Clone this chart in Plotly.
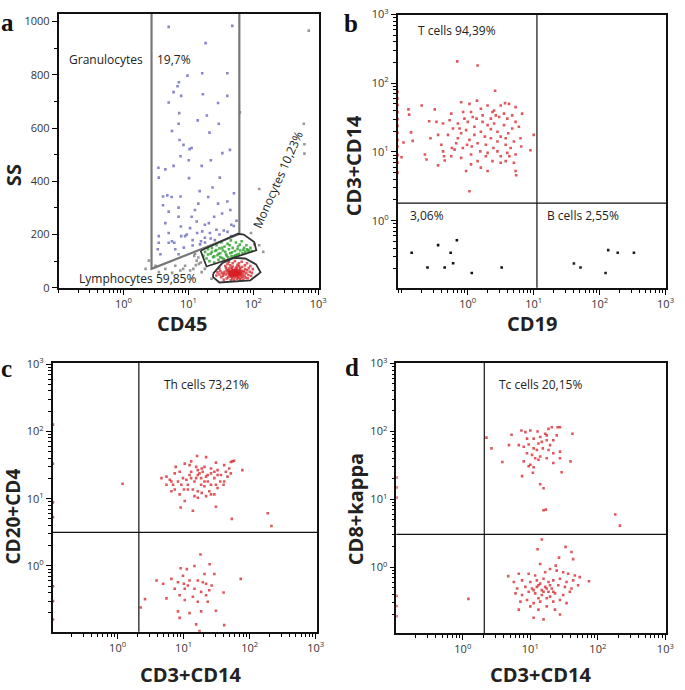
import plotly.graph_objects as go

# ---------------- Panel a: CD45 vs SS ----------------
granulocytes = [(4.96, 980), (47.3, 984), (18.4, 919), (16.3, 806), (39.7, 806), (9.66, 797), (7.13, 772),
                (6.80, 757), (5.91, 735), (16.7, 727), (39.7, 721), (4.96, 696), (28.6, 694), (7.73, 721),
                (7.21, 656), (19.2, 647), (7.05, 616), (13.9, 629), (29.3, 616), (21.1, 583), (5.57, 589),
                (7.29, 555), (8.39, 537), (10.4, 521), (11.2, 525), (43.6, 518), (22.1, 479), (33.3, 506),
                (7.55, 494), (10.1, 479), (16.0, 458), (5.91, 458), (3.45, 451), (4.41, 445), (3.49, 414),
                (10.2, 412), (30.4, 414), (23.5, 377), (14.9, 363), (4.73, 347), (4.06, 343), (20.2, 341),
                (5.51, 341), (7.55, 343), (50.2, 355), (4.06, 310), (7.05, 301), (14.2, 316), (28.6, 316),
                (39.7, 324), (44.2, 292), (4.96, 286), (7.05, 267), (11.2, 267), (13.4, 249), (17.9, 237),
                (20.6, 243), (24.9, 267), (4.41, 243), (7.64, 230), (3.49, 194), (4.96, 206), (9.44, 200),
                (13.6, 206), (16.3, 212), (21.4, 206), (8.89, 194), (3.49, 169), (5.57, 175), (11.6, 179),
                (15.6, 175), (25.5, 179), (45.7, 194), (6.27, 145), (8.49, 151), (11.6, 159), (15.1, 163),
                (3.37, 145), (3.70, 126), (4.96, 169), (7.05, 126), (17.9, 188), (27.0, 218), (10.6, 224),
                (12.6, 292), (33.0, 279), (45.7, 237), (6.05, 169), (7.73, 194), (30.0, 200), (35.0, 215),
                (22.0, 185), (40.0, 210), (50.0, 232), (55.0, 252), (18.0, 170)]
monocytes = [(17, 120), (18, 135), (19, 110), (20, 145), (21, 100), (22, 128), (23, 150), (24, 115), (25, 95),
             (26, 138), (27, 160), (28, 122), (29, 105), (30, 148), (31, 130), (32, 170), (33, 112), (34, 140),
             (35, 108), (36, 155), (38, 125), (40, 165), (41, 114), (42, 145), (44, 130), (45, 178), (46, 118),
             (48, 150), (50, 118), (52, 138), (54, 170), (56, 125), (58, 155), (60, 128), (63, 140), (66, 175),
             (68, 130), (72, 150), (75, 135), (78, 160), (82, 140), (86, 140), (90, 150), (95, 138), (20, 125),
             (23, 135), (25, 118), (27, 142), (29, 128), (31, 115), (33, 150), (37, 135), (39, 120), (43, 160),
             (47, 133), (53, 122), (57, 145), (62, 162), (70, 142), (80, 145)]
lymphocytes = [(45, 55), (48, 60), (50, 52), (52, 58), (55, 62), (47, 50), (53, 48), (58, 56), (44, 62), (49, 66),
               (56, 70), (60, 60), (42, 52), (51, 45), (54, 54), (57, 50), (46, 58), (59, 65), (62, 55), (40, 58),
               (50, 62), (48, 54), (52, 66), (55, 45), (43, 48), (61, 48), (64, 62), (38, 50), (47, 70), (53, 72),
               (58, 42), (45, 42), (66, 57), (41, 65), (50, 57), (54, 60), (49, 48), (57, 62), (63, 68), (44, 56),
               (36, 60), (39, 66), (35, 52), (68, 50), (70, 64), (65, 45), (62, 74), (46, 75), (52, 40), (59, 38),
               (42, 72), (55, 78), (48, 80), (60, 82), (38, 74), (33, 56), (34, 45), (72, 58), (75, 70), (69, 40),
               (41, 40), (47, 36), (56, 34), (64, 36), (73, 46), (78, 55), (80, 66), (67, 78), (57, 86), (44, 84),
               (37, 82), (31, 62), (30, 50), (32, 40), (39, 35), (50, 30), (62, 30), (76, 38), (84, 48), (88, 60),
               (85, 74), (74, 84), (60, 92), (48, 92), (40, 90), (30, 72), (28, 58), (27, 46), (35, 30), (45, 28),
               (70, 30), (82, 36), (92, 44), (95, 56), (98, 70), (90, 82), (80, 92), (66, 98), (52, 100), (42, 98),
               (58, 55), (51, 51), (46, 63), (54, 66), (49, 43), (61, 58), (43, 60), (56, 47), (53, 56), (47, 46),
               (51, 59), (45, 50), (55, 53), (49, 57), (60, 52), (52, 63), (57, 58), (48, 64), (44, 46), (63, 50)]
ungated = [(713, 966), (62, 659), (598, 616), (612, 539), (612, 504), (123, 371), (123, 160), (142, 135),
           (92, 206), (104, 163), (2.46, 102), (2.19, 71), (3.11, 83), (4.41, 71), (6.27, 83), (8.89, 83),
           (11.9, 71), (10.6, 65), (12.3, 120), (13.4, 102), (14.2, 114), (12.6, 128), (16.0, 59), (17.9, 71),
           (7.5, 65), (22.7, 34), (3.5, 59), (5.6, 56), (8.3, 71), (14.5, 90), (15.5, 95), (13, 85)]
gate_granulocytes = [(2.7, 1100), (2.7, 71), (60.8, 202), (60.8, 1100)]
gate_monocytes = [(15.4, 139), (57.7, 203), (71, 200), (103, 172), (111, 141), (19, 80), (15.4, 139)]
gate_lymphocytes = [(24, 53), (33, 92), (50, 112), (75, 110), (110, 88), (129, 58), (90, 28), (30, 20), (24, 40), (24, 53)]

# ---------------- Panel b: CD19 vs CD3+CD14 ----------------
t_cells = [(0.692, 208), (1.41, 181), (2.60, 77.7), (0.200, 47.5), (0.126, 41.6), (0.129, 34.9), (0.316, 41.6),
           (0.260, 28.0), (0.138, 19.3), (0.106, 13.7), (0.146, 14.5), (0.224, 9.16), (0.237, 7.77),
           (0.099, 8.39), (0.355, 6.38), (0.447, 7.52), (0.422, 26.0), (0.562, 36.1), (0.794, 52.9),
           (1.06, 50.1), (1.38, 55.9), (2.0, 47.5), (2.51, 40.2), (3.16, 47.5), (3.67, 51.3), (4.22, 50.1),
           (5.31, 44.9), (6.68, 36.1), (5.31, 27.4), (3.98, 30.6), (2.99, 32.3), (2.24, 30.6), (1.68, 34.1),
           (1.19, 32.3), (0.891, 30.6), (0.708, 26.0), (0.596, 22.0), (0.501, 17.7), (0.708, 15.8),
           (0.944, 20.8), (1.26, 23.3), (1.58, 19.7), (2.0, 24.6), (2.51, 26.0), (3.55, 24.6), (4.73, 22.0),
           (5.96, 23.3), (6.31, 15.8), (5.01, 14.2), (3.76, 12.7), (2.82, 14.2), (2.24, 15.8), (1.88, 12.7),
           (1.41, 13.4), (1.06, 15.0), (0.841, 11.4), (0.631, 10.8), (0.562, 8.67), (0.794, 8.20),
           (1.12, 9.16), (1.41, 7.36), (2.0, 9.68), (2.82, 10.2), (3.98, 9.68), (5.31, 9.16), (3.16, 6.96),
           (2.37, 7.36), (1.58, 5.91), (1.12, 6.59), (0.944, 5.29), (2.0, 5.29), (3.76, 7.36), (5.01, 6.96),
           (5.31, 5.29), (6.46, 12.0), (8.91, 10.6), (10.0, 17.7), (5.43, 4.59), (1.06, 2.68), (0.437, 8.67),
           (0.422, 10.2), (0.575, 11.4), (0.668, 13.4), (0.794, 18.7), (1.0, 27.4), (1.36, 30.6),
           (1.82, 16.7), (2.45, 11.4), (3.16, 16.7), (4.12, 18.7), (4.73, 34.1), (3.55, 36.1), (2.66, 34.1),
           (2.24, 21.5), (1.68, 27.4), (1.26, 17.7), (0.977, 12.7), (0.750, 22.0), (0.531, 29.0),
           (0.335, 27.4), (0.355, 17.7), (0.272, 15.8), (0.398, 12.7), (1.88, 8.67), (2.82, 19.7),
           (4.47, 11.4), (3.76, 15.8), (1.55, 10.2), (1.15, 12.0), (3.16, 8.67), (4.27, 8.67), (2.37, 38.1),
           (1.58, 42.5), (1.12, 38.1), (0.851, 38.1)]
t_cells_edge = [(0.086, 5), (0.086, 7), (0.086, 9), (0.086, 12), (0.086, 15), (0.086, 19), (0.086, 24),
                (0.086, 30), (0.086, 38), (0.086, 48), (0.086, 60), (0.086, 75)]
double_negative = [(0.141, 0.341), (0.245, 0.208), (0.355, 0.44), (0.447, 0.208), (0.55, 0.341), (0.60, 0.24),
                   (0.684, 0.518), (1.15, 0.173), (3.27, 0.208)]
b_cells = [(40.7, 0.238), (51.3, 0.208), (123, 0.173), (135, 0.373), (188, 0.341), (331, 0.341)]
b_thresholds = (11.2, 1.8)

# ---------------- Panel c: CD3+CD14 vs CD20+CD4 ----------------
th_cells = [(16.0, 43.0), (21.9, 41.5), (55.0, 35.9), (58.2, 36.7), (30.9, 34.4), (13.0, 35.9), (10.4, 33.2),
            (7.59, 29.7), (5.50, 21.3), (4.62, 20.2), (6.17, 19.1), (6.53, 12.9), (8.71, 25.2), (9.77, 20.2),
            (13.0, 25.2), (16.4, 26.6), (20.7, 29.7), (26.0, 28.1), (32.7, 26.6), (41.2, 31.5), (49.0, 28.1),
            (51.9, 35.1), (36.7, 22.5), (29.2, 20.2), (23.2, 22.5), (18.4, 20.2), (14.6, 18.0), (11.6, 16.1),
            (9.23, 16.1), (7.33, 13.7), (8.71, 11.6), (11.6, 13.7), (16.4, 12.9), (20.7, 15.3), (26.0, 16.1),
            (32.7, 14.4), (41.2, 18.0), (46.2, 21.3), (16.4, 10.3), (21.9, 10.9), (29.2, 11.6), (10.4, 9.25),
            (14.6, 10.9), (20.7, 18.0), (16.4, 22.5), (13.0, 20.2), (26.0, 23.8), (19.5, 25.2), (15.5, 29.7),
            (12.3, 31.5), (43.7, 25.2), (35.9, 18.0), (30.9, 16.1), (24.5, 12.9), (18.8, 12.2), (13.8, 13.7),
            (11.0, 19.1), (8.22, 18.0), (6.92, 16.1), (77.6, 26.6), (9.02, 7.41), (13.8, 6.63), (30.9, 7.57),
            (53.7, 5.01), (188, 6.06), (214, 3.93), (17.4, 23.8), (21.9, 21.3), (18.4, 16.1), (15.5, 20.2),
            (23.2, 18.0), (29.2, 25.2), (12.3, 22.5), (10.1, 13.7), (26.0, 11.6), (18.8, 28.1), (32.7, 22.5),
            (40.3, 16.1), (6.53, 18.0), (5.50, 16.1), (7.33, 23.8), (51.9, 23.8), (1.19, 16.7)]
cd4_negative = [(18.0, 1.48), (24.8, 1.06), (14.6, 1.0), (9.02, 0.925), (11.2, 0.895), (20.7, 0.757),
                (29.2, 0.757), (3.89, 0.607), (4.90, 0.542), (6.53, 0.641), (8.22, 0.573), (10.1, 0.542),
                (12.3, 0.607), (16.4, 0.607), (21.9, 0.542), (26.6, 0.513), (10.4, 0.459), (7.33, 0.459),
                (14.6, 0.459), (18.4, 0.411), (21.9, 0.367), (13.8, 0.348), (8.71, 0.367), (5.50, 0.329),
                (10.4, 0.311), (16.4, 0.294), (23.2, 0.294), (2.60, 0.321), (2.24, 0.241), (30.9, 0.216),
                (8.22, 0.211), (12.3, 0.199), (18.4, 0.211), (8.71, 0.169), (15.5, 0.135), (41.2, 0.132),
                (40.3, 0.402), (73.3, 0.641), (17.4, 0.108), (11.6, 0.513), (19.5, 0.573), (9.77, 0.716),
                (24.5, 0.434)]
c_edge = [(0.105, 126), (0.105, 33), (0.105, 8.8), (0.105, 5.3), (0.105, 0.5), (0.105, 0.3), (0.105, 0.16)]
c_thresholds = (2.1, 3.16)

# ---------------- Panel d: CD3+CD14 vs CD8+kappa ----------------
tc_cells = [(2.24, 81.1), (2.66, 56.3), (3.85, 35.4), (4.82, 62.9), (5.27, 89.5), (7.38, 103), (8.45, 97.8),
            (10.0, 103), (11.2, 78.4), (12.8, 100), (17.5, 87.5), (20.8, 115), (25.4, 115), (27.5, 115),
            (42.1, 92.5), (6.75, 62.9), (7.99, 59.5), (9.45, 64.3), (11.2, 56.3), (13.2, 66.5), (14.8, 70.3),
            (17.5, 74.2), (19.6, 62.9), (21.9, 74.2), (24.6, 87.5), (8.93, 47.7), (10.6, 45.2), (12.5, 53.3),
            (15.3, 56.3), (18.6, 53.3), (21.9, 47.7), (27.5, 50.4), (7.99, 36.2), (10.0, 32.4), (11.8, 40.4),
            (14.0, 42.7), (17.5, 40.4), (27.5, 40.4), (39.4, 36.2), (7.55, 22.0), (9.45, 30.7), (11.2, 29.7),
            (13.2, 38.3), (21.9, 34.3), (29.1, 25.1), (10.9, 24.6), (14.0, 16.7), (15.7, 14.6), (17.0, 7.06),
            (15.7, 6.91), (181, 5.98), (212, 4.11), (8.93, 78.4), (14.0, 82.9), (16.6, 92.5), (18.6, 109)]
cd8_negative = [(14.8, 2.56), (12.8, 1.84), (33.3, 2.0), (40.7, 1.68), (26.6, 1.39), (14.0, 1.12), (23.8, 1.06),
                (43.1, 1.32), (4.71, 0.742), (6.75, 0.802), (9.45, 0.802), (11.8, 0.759), (16.6, 0.847),
                (19.6, 0.946), (24.6, 0.895), (30.7, 0.847), (36.4, 0.802), (45.6, 0.759), (53.9, 0.718),
                (73.8, 0.622), (5.70, 0.608), (7.55, 0.643), (10.0, 0.608), (12.5, 0.643), (15.7, 0.679),
                (18.6, 0.608), (21.9, 0.643), (27.5, 0.679), (34.4, 0.608), (43.1, 0.643), (6.38, 0.488),
                (8.45, 0.516), (10.6, 0.488), (13.2, 0.545), (16.6, 0.516), (20.8, 0.488), (26.0, 0.545),
                (32.5, 0.516), (40.7, 0.488), (51.0, 0.545), (6.03, 0.413), (7.55, 0.391), (9.45, 0.437),
                (11.8, 0.413), (14.8, 0.391), (18.6, 0.437), (23.2, 0.413), (30.7, 0.391), (38.5, 0.437),
                (7.14, 0.313), (8.93, 0.331), (11.2, 0.297), (14.0, 0.313), (17.5, 0.350), (21.9, 0.313),
                (27.5, 0.331), (34.4, 0.297), (6.75, 0.238), (10.0, 0.266), (13.2, 0.238), (17.5, 0.266),
                (23.2, 0.238), (11.2, 0.181), (15.7, 0.171), (27.5, 0.202), (12.5, 0.516), (14.8, 0.462),
                (17.5, 0.488), (19.6, 0.545), (14.0, 0.576), (15.7, 0.437), (11.2, 0.462), (21.9, 0.437),
                (19.6, 0.370), (13.2, 0.350), (1.21, 0.343)]
d_edge = [(0.104, 21), (0.104, 15), (0.104, 10.6), (0.104, 0.38), (0.104, 0.27), (0.104, 0.19)]
d_thresholds = (2.08, 3.06)

# ---------------- Figure ----------------
RED = "rgba(214,32,38,0.75)"
TICKFONT = dict(family="Open Sans", size=11, color="#333")
LOG_TICKS = [1, 10, 100, 1000]
LOG_TEXT = ["10<sup>0</sup>", "10<sup>1</sup>", "10<sup>2</sup>", "10<sup>3</sup>"]

fig = go.Figure()


def add_pts(pts, xa, ya, color, size=2.6):
    xs, ys = zip(*pts)
    fig.add_trace(go.Scatter(x=list(xs), y=list(ys), mode="markers", xaxis=xa, yaxis=ya,
                             marker=dict(size=size, color=color, symbol="square", line=dict(width=0)),
                             showlegend=False, hoverinfo="skip"))


def add_line(pts, xa, ya, color, width):
    xs, ys = zip(*pts)
    fig.add_trace(go.Scatter(x=list(xs), y=list(ys), mode="lines", xaxis=xa, yaxis=ya,
                             line=dict(color=color, width=width), showlegend=False, hoverinfo="skip"))


# panel a
add_pts(ungated, "x", "y", "rgba(110,110,110,0.7)")
add_pts(granulocytes, "x", "y", "rgba(95,95,185,0.75)")
add_pts(monocytes, "x", "y", "rgba(40,160,40,0.8)")
add_pts(lymphocytes, "x", "y", RED)
add_line(gate_granulocytes, "x", "y", "#777", 2.2)
add_line(gate_monocytes, "x", "y", "#333", 1.8)
add_line(gate_lymphocytes, "x", "y", "#333", 1.8)

# panel b
add_pts(t_cells, "x2", "y2", RED)
add_pts(t_cells_edge, "x2", "y2", RED)
add_pts(double_negative, "x2", "y2", "#111")
add_pts(b_cells, "x2", "y2", "#222")
add_line([(b_thresholds[0], 0.01), (b_thresholds[0], 5000)], "x2", "y2", "#111", 1.2)
add_line([(0.01, b_thresholds[1]), (5000, b_thresholds[1])], "x2", "y2", "#111", 1.2)

# panel c
add_pts(th_cells, "x3", "y3", RED)
add_pts(cd4_negative, "x3", "y3", RED)
add_pts(c_edge, "x3", "y3", RED)
add_line([(c_thresholds[0], 0.01), (c_thresholds[0], 5000)], "x3", "y3", "#111", 1.2)
add_line([(0.01, c_thresholds[1]), (5000, c_thresholds[1])], "x3", "y3", "#111", 1.2)

# panel d
add_pts(tc_cells, "x4", "y4", RED)
add_pts(cd8_negative, "x4", "y4", RED)
add_pts(d_edge, "x4", "y4", RED)
add_line([(d_thresholds[0], 0.01), (d_thresholds[0], 5000)], "x4", "y4", "#111", 1.2)
add_line([(0.01, d_thresholds[1]), (5000, d_thresholds[1])], "x4", "y4", "#111", 1.2)

W, H = 685, 690


def dom_x(p0, p1):
    return [p0 / W, p1 / W]


def dom_y(p_top, p_bot):
    return [1 - p_bot / H, 1 - p_top / H]


def log_axis(rng, domain, anchor):
    return dict(type="log", range=rng, domain=domain, anchor=anchor,
                tickmode="array", tickvals=LOG_TICKS, ticktext=LOG_TEXT,
                ticks="outside", ticklen=5, tickwidth=1.2, tickcolor="#000",
                showline=True, linecolor="#111", linewidth=1.5, mirror=True,
                showgrid=False, zeroline=False, tickfont=TICKFONT,
                minor=dict(dtick="D1", ticks="outside", ticklen=3,
                           tickwidth=1, tickcolor="#000", showgrid=False))


fig.update_layout(
    width=W, height=H, margin=dict(l=0, r=0, t=0, b=0),
    paper_bgcolor="white", plot_bgcolor="white", showlegend=False,
    xaxis=log_axis([-1, 3.01], dom_x(59.3, 322.7), "y"),
    yaxis=dict(type="linear", range=[0, 1029], domain=dom_y(6, 286), anchor="x",
               tickmode="linear", tick0=0, dtick=200,
               ticks="outside", ticklen=5, tickwidth=1.2, tickcolor="#000",
               showline=True, linecolor="#111", linewidth=1.5, mirror=True,
               showgrid=False, zeroline=False, tickfont=TICKFONT,
               minor=dict(dtick=100, ticks="outside", ticklen=3, tickwidth=1,
                          tickcolor="#000", showgrid=False)),
    xaxis2=log_axis([-1.064, 3.013], dom_x(402.3, 674.3), "y2"),
    yaxis2=log_axis([-0.977, 3.0], dom_y(6.7, 286), "x2"),
    xaxis3=log_axis([-0.983, 3.024], dom_x(53.3, 321), "y3"),
    yaxis3=log_axis([-0.98, 3.02], dom_y(362.7, 637.7), "x3"),
    xaxis4=log_axis([-0.985, 3.016], dom_x(401, 674.3), "y4"),
    yaxis4=log_axis([-0.973, 3.01], dom_y(362.7, 639.3), "x4"),
)


def ann(text, px, py, size=12, anchor="center", angle=0, bold=False, family="Open Sans", color="#222"):
    fig.add_annotation(text=("<b>%s</b>" % text) if bold else text, x=px / W, y=1 - py / H,
                       xref="paper", yref="paper", xanchor=anchor, yanchor="middle",
                       showarrow=False, textangle=angle,
                       font=dict(family=family, size=size, color=color))


# panel letters
for letter, px, py in [("a", 8, 15), ("b", 355, 16), ("c", 7, 369), ("d", 356, 367)]:
    ann(letter, px, py, size=25, bold=True, family="Liberation Serif", color="#111")

# axis titles
ann("SS", 13, 171, size=20, angle=-90, bold=True)
ann("CD45", 184, 322, size=20, bold=True)
ann("CD3+CD14", 358.5, 161.5, size=20, angle=-90, bold=True)
ann("CD19", 538.5, 322, size=20, bold=True)
ann("CD20+CD4", 13, 520, size=19, angle=-90, bold=True)
ann("CD3+CD14", 192.5, 681, size=20, bold=True)
ann("CD8+kappa", 360.5, 512, size=20, angle=-90, bold=True)
ann("CD3+CD14", 546.5, 681, size=20, bold=True)

# gate / quadrant labels
ann("Granulocytes", 68, 53, size=12, anchor="left")
ann("19,7%", 157, 53, size=12, anchor="left")
ann("Lymphocytes 59,85%", 78, 276, size=12, anchor="left")
ann("Monocytes 10,23%", 281, 175, size=12, angle=-66)
ann("T cells 94,39%", 421, 22.7, size=12, anchor="left")
ann("3,06%", 412.7, 212, size=12, anchor="left")
ann("B cells 2,55%", 551.7, 212, size=12, anchor="left")
ann("Th cells 73,21%", 164, 385, size=12, anchor="left")
ann("Tc cells 20,15%", 503, 385, size=12, anchor="left")

# remove the browser's default page margin so the figure sits at the page origin
fig.write_html("out.html", config={"displayModeBar": False},
               post_script="document.body.style.margin='0';document.body.style.padding='0';")
